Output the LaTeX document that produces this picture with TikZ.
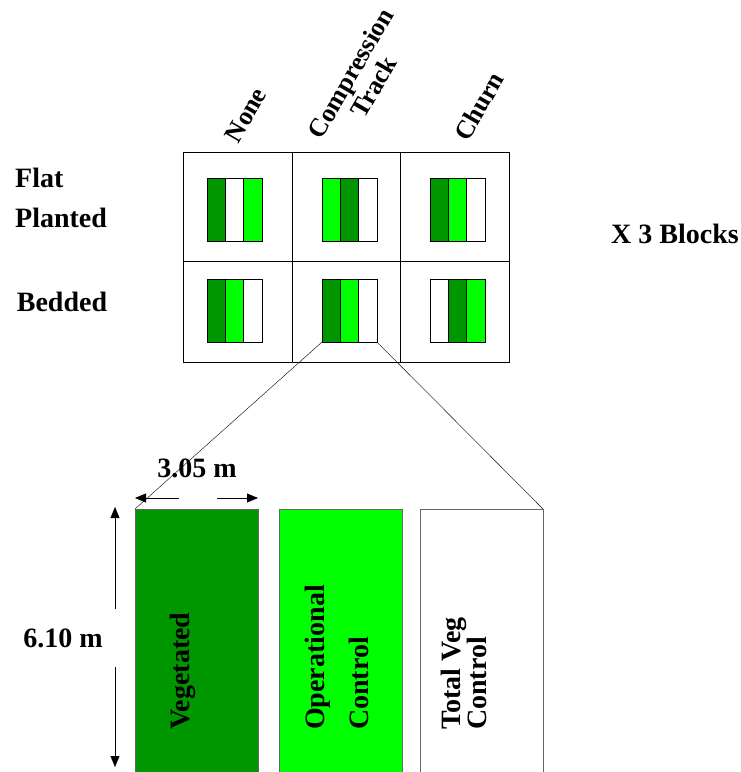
\documentclass[tikz,border=0pt]{standalone}
\usepackage{fontspec}
\setmainfont{Liberation Serif}
\usetikzlibrary{arrows.meta}

\definecolor{darkgreen1}{RGB}{0,150,0}
\definecolor{lightgreen1}{RGB}{0,255,0}
\tikzstyle{label} = [font=\bfseries\fontsize{28}{30}\selectfont, inner sep=0pt]
\tikzstyle{header} = [label, font=\bfseries\fontsize{26}{27}\selectfont, rotate=60, align=center]
\tikzstyle{strip} = [draw, rectangle, inner sep=0pt, outer sep=0pt, minimum width=18.3pt, minimum height=63pt, anchor=north west]
\tikzstyle{plot} = [draw=black!60, rectangle, inner sep=0pt, outer sep=0pt, minimum width=123pt, minimum height=263pt, anchor=north west]
\tikzstyle{striptext} = [label, rotate=90, anchor=west, align=left]
\tikzstyle{arrow} = [draw, -{Triangle[length=11pt,width=9pt]}]

\begin{document}
\begin{tikzpicture}[x=1pt, y=-1pt]
  \useasboundingbox (0,0) rectangle (741,772);

  % treatment grid
  \draw (183,152) rectangle (509,362);
  \draw (292,152) -- (292,362);
  \draw (400,152) -- (400,362);
  \draw (183,261) -- (509,261);

  \node [header] (none) at (246,115) {None};
  \node [header] (comp) at (362,80) {Compression\\Track};
  \node [header] (churn) at (479,106) {Churn};

  \node [label, align=left, anchor=west] (flat) at (15,198) {Flat\\[10pt]Planted};
  \node [label] (bedded) at (62,302) {Bedded};
  \node [label] (blocks) at (675,234) {X 3 Blocks};

  % small strips in each cell
  \foreach \name/\x/\y/\ca/\cb/\cc in {
      a/207/178/darkgreen1/white/lightgreen1,
      b/322/178/lightgreen1/darkgreen1/white,
      c/430/178/darkgreen1/lightgreen1/white,
      d/207/279/darkgreen1/lightgreen1/white,
      e/322/279/darkgreen1/lightgreen1/white,
      f/430/279/white/darkgreen1/lightgreen1} {
    \node [strip, fill=\ca] (\name1) at (\x,\y) {};
    \node [strip, fill=\cb] (\name2) at (\x+18.3,\y) {};
    \node [strip, fill=\cc] (\name3) at (\x+36.6,\y) {};
  }

  % enlarged plot
  \node [plot, fill=darkgreen1] (veg) at (135,509) {};
  \node [plot, fill=lightgreen1] (oper) at (279,509) {};
  \node [plot, fill=white] (total) at (420,509) {};

  \node [striptext] (vegtext) at (183,730) {Vegetated};
  \node [striptext] (opertext) at (337,730) {Operational\\[14pt]Control};
  \node [striptext] (totaltext) at (464,730) {Total Veg\\[-4pt]Control};

  \draw (e1.south west) -- (veg.north west);
  \draw (e3.south east) -- (total.north east);

  % dimensions
  \coordinate (wl) at (179,498);
  \coordinate (wr) at (217,498);
  \coordinate (hu) at (115,609);
  \coordinate (hd) at (115,667);
  \draw [arrow] (wl) -- (veg.north west |- wl);
  \draw [arrow] (wr) -- (veg.north east |- wr);
  \draw [arrow] (hu) -- (115,507);
  \draw [arrow] (hd) -- (115,767);
  \node [label] (width) at (197,468) {3.05 m};
  \node [label] (height) at (63,638) {6.10 m};
\end{tikzpicture}
\end{document}
